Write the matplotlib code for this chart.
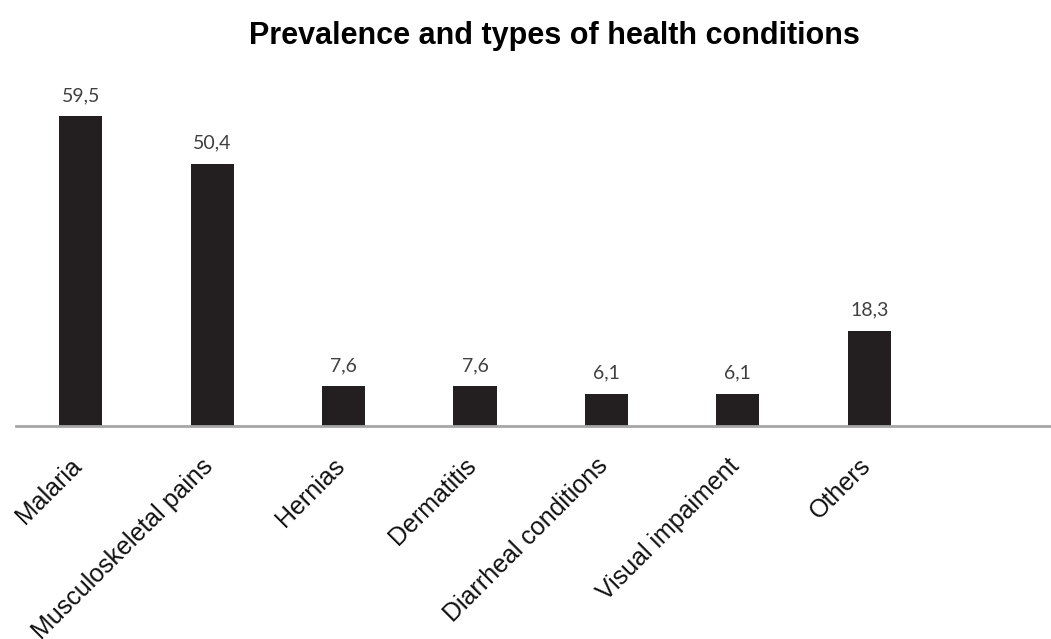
import matplotlib.pyplot as plt
from matplotlib.transforms import ScaledTranslation

# health conditions and their prevalence (%)
conditions = ['Malaria', 'Musculoskeletal pains', 'Hernias', 'Dermatitis',
              'Diarrheal conditions', 'Visual impaiment', 'Others']
prevalence = [59.5, 50.4, 7.6, 7.6, 6.1, 6.1, 18.3]
value_labels = ['59,5', '50,4', '7,6', '7,6', '6,1', '6,1', '18,3']

fig = plt.figure(figsize=(10.51, 6.39), dpi=100)
ax = fig.add_axes([16/1051, 1 - 426/639, (1050 - 16)/1051, (426 - 80)/639])

x = list(range(len(conditions)))
ax.bar(x, prevalence, width=0.33, color='#231f20', zorder=2)

for xi, v, lab in zip(x, prevalence, value_labels):
    ax.annotate(lab, (xi, v), xytext=(0, 9), textcoords='offset points',
                ha='center', va='bottom', fontsize=14, color='#404040',
                family=['Lato', 'DejaVu Sans'])

ax.set_xlim(-0.493, 7.376)
ax.set_ylim(0, 66.5)

ax.set_xticks(x)
ax.set_xticklabels(conditions, rotation=45, ha='right', va='top',
                   rotation_mode='anchor', fontsize=18,
                   family=['Liberation Sans', 'DejaVu Sans'], color='#111111')
ax.tick_params(axis='x', length=0, pad=20)
# nudge the rotated labels left so they end under the bar centres
shift = ScaledTranslation(-11/100, 0, fig.dpi_scale_trans)
for t in ax.get_xticklabels():
    t.set_transform(t.get_transform() + shift)
ax.set_yticks([])

for side in ['top', 'right', 'left']:
    ax.spines[side].set_visible(False)
ax.spines['bottom'].set_color('#a6a6a6')
ax.spines['bottom'].set_linewidth(2)

fig.text(554/1051, 1 - 36/639, 'Prevalence and types of health conditions',
         ha='center', va='center', fontsize=22, fontweight='bold',
         family=['Liberation Sans', 'DejaVu Sans'])

fig.savefig('out.png', dpi=100)
